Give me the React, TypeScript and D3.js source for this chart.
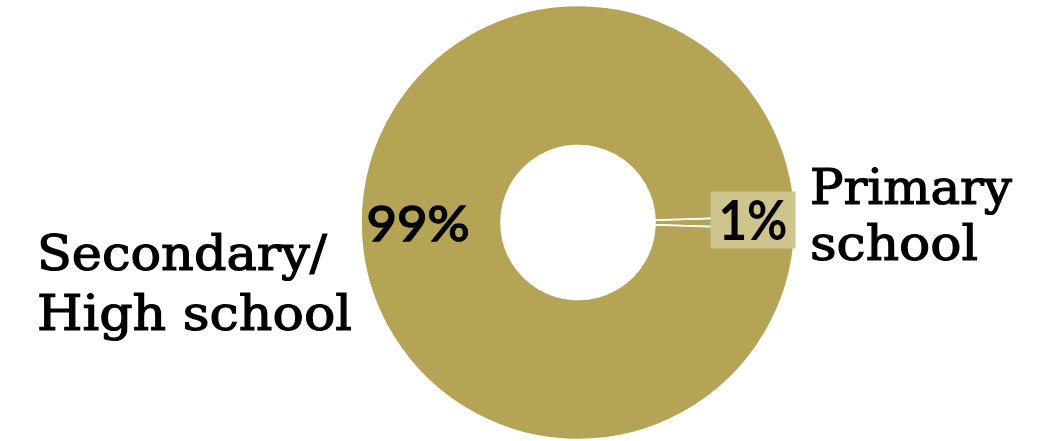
import React from "react";
import * as d3 from "d3";

const categories = ["Primary school", "Secondary/High school"];
const values = [1, 99];
const valueLabels = ["1%", "99%"];
const nameLines = [["Primary", "school"], ["Secondary/", "High school"]];

const W = 1055;
const H = 441;
const cx = 578;
const cy = 222.5;
const outerR = 217;
const innerR = 77;
const mainColor = "#b6a456";
const boxColor = "#cec48e";
const labelRadius = [175, 160];

export default function App() {
  const pie = d3
    .pie<number>()
    .sort(null)
    .startAngle(Math.PI / 2 - Math.PI * 0.01)
    .endAngle(Math.PI / 2 - Math.PI * 0.01 + 2 * Math.PI);
  const arcs = pie(values);
  const arc = d3.arc<d3.PieArcDatum<number>>().innerRadius(innerR).outerRadius(outerR);

  const labelPos = arcs.map((a, i) =>
    d3.arc<d3.PieArcDatum<number>>().innerRadius(labelRadius[i]).outerRadius(labelRadius[i]).centroid(a)
  );

  const slab = "'DejaVu Serif', serif";
  const sans = "Lato, 'Open Sans', sans-serif";

  return (
    <svg
      width={W}
      height={H}
      style={{ position: "absolute", left: 0, top: 0, background: "#fff" }}
    >
      <g transform={`translate(${cx},${cy})`}>
        {arcs.map((a, i) => (
          <path
            key={categories[i]}
            d={arc(a) || ""}
            fill={mainColor}
            stroke="#fff"
            strokeWidth={1.6}
          />
        ))}
        <rect
          x={labelPos[0][0] - 42.5}
          y={labelPos[0][1] - 31}
          width={85}
          height={57}
          fill={boxColor}
        />
        <text
          x={labelPos[0][0]}
          y={labelPos[0][1] + 17.5}
          textAnchor="middle"
          fontFamily={sans}
          fontWeight={700}
          fontSize={55}
          textLength={69}
          lengthAdjust="spacingAndGlyphs"
          fill="#000"
        >
          {valueLabels[0]}
        </text>
        <text
          x={labelPos[1][0]}
          y={labelPos[1][1] + 18.5}
          textAnchor="middle"
          fontFamily={sans}
          fontWeight={400}
          fontSize={48}
          textLength={103}
          lengthAdjust="spacingAndGlyphs"
          fill="#000"
          stroke="#000"
          strokeWidth={1.6}
        >
          {valueLabels[1]}
        </text>
      </g>
      <text fontFamily={slab} fontSize={48} fill="#000" stroke="#000" strokeWidth={1.2}>
        <tspan x={810} y={204} textLength={202} lengthAdjust="spacingAndGlyphs">
          {nameLines[0][0]}
        </tspan>
        <tspan x={810} y={260} textLength={168} lengthAdjust="spacingAndGlyphs">
          {nameLines[0][1]}
        </tspan>
      </text>
      <text fontFamily={slab} fontSize={48} fill="#000" stroke="#000" strokeWidth={1.2}>
        <tspan x={37} y={270} textLength={290} lengthAdjust="spacingAndGlyphs">
          {nameLines[1][0]}
        </tspan>
        <tspan x={37} y={330} textLength={315} lengthAdjust="spacingAndGlyphs">
          {nameLines[1][1]}
        </tspan>
      </text>
    </svg>
  );
}
